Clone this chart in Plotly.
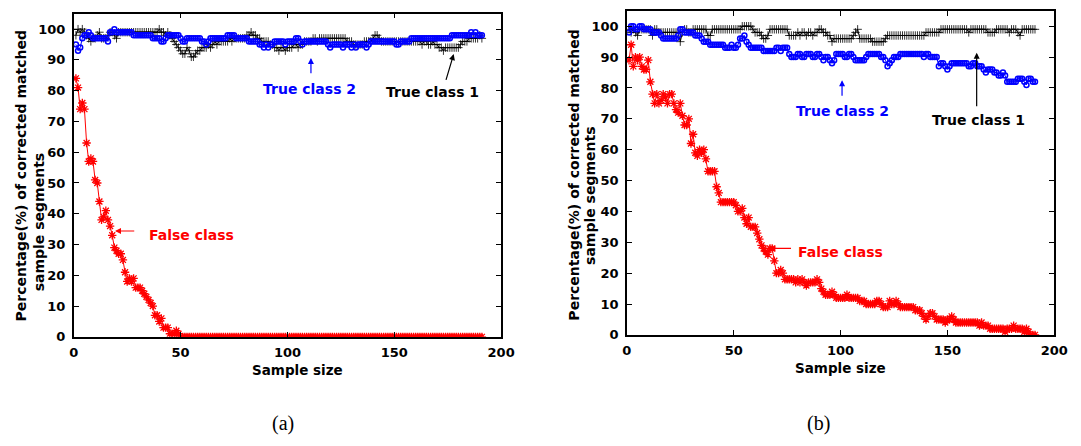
import plotly.graph_objects as go

# ---------------- data ----------------
sample_size = list(range(1, 192))
x_ticks = [0, 50, 100, 150, 200]
y_ticks = [0, 10, 20, 30, 40, 50, 60, 70, 80, 90, 100]

# Panel (a)
true_class1_a = [
    98, 100, 99, 100, 99, 98, 97, 96, 97, 97,
    98, 99, 97, 97, 97, 98, 99, 99, 98, 97,
    99, 99, 99, 99, 99, 99, 99, 99, 99, 99,
    99, 99, 99, 99, 99, 99, 99, 99, 99, 100,
    99, 99, 98, 99, 98, 97, 96, 95, 94, 93,
    92, 92, 94, 93, 91, 91, 92, 93, 93, 94,
    94, 94, 95, 94, 95, 96, 95, 96, 96, 96,
    96, 96, 97, 96, 97, 97, 97, 97, 97, 97,
    98, 98, 99, 98, 98, 97, 97, 96, 96, 96,
    96, 95, 95, 94, 94, 93, 94, 94, 93, 94,
    94, 94, 95, 95, 94, 95, 95, 96, 96, 96,
    96, 97, 97, 96, 97, 97, 97, 97, 97, 97,
    97, 97, 97, 97, 97, 97, 97, 96, 96, 96,
    95, 95, 95, 95, 95, 96, 96, 96, 96, 97,
    98, 98, 97, 96, 96, 96, 96, 96, 96, 96,
    96, 96, 96, 96, 96, 96, 96, 96, 96, 96,
    96, 96, 95, 96, 96, 95, 95, 96, 95, 95,
    94, 94, 93, 94, 94, 94, 94, 94, 94, 94,
    95, 96, 96, 96, 97, 97, 97, 97, 97, 98,
    97,
]
true_class2_a = [
    95, 93, 94, 97, 98, 98, 99, 98, 97, 97,
    97, 97, 97, 97, 97, 96, 99, 99, 100, 99,
    99, 99, 99, 99, 99, 99, 99, 98, 98, 98,
    98, 98, 98, 98, 98, 98, 97, 97, 97, 97,
    96, 96, 97, 98, 98, 98, 98, 98, 98, 97,
    96, 96, 97, 97, 97, 97, 97, 97, 97, 96,
    96, 95, 96, 97, 97, 97, 97, 97, 97, 97,
    97, 98, 98, 98, 98, 97, 97, 97, 97, 97,
    97, 96, 96, 96, 96, 96, 95, 95, 94, 95,
    94, 95, 95, 96, 96, 96, 96, 96, 95, 96,
    96, 96, 96, 97, 97, 96, 95, 96, 96, 96,
    96, 96, 96, 96, 96, 96, 96, 96, 95, 94,
    95, 95, 95, 95, 95, 94, 95, 95, 95, 94,
    95, 94, 95, 95, 95, 95, 94, 95, 96, 96,
    96, 96, 96, 96, 96, 96, 96, 96, 96, 96,
    95, 95, 96, 96, 96, 96, 96, 97, 97, 97,
    97, 97, 97, 97, 97, 97, 97, 97, 97, 97,
    97, 97, 97, 97, 97, 97, 98, 98, 98, 98,
    98, 98, 98, 98, 98, 99, 98, 99, 98, 98,
    98,
]
false_class_a = [
    84, 81, 74, 76, 74, 63, 57, 58, 57, 51,
    50, 44, 38, 39, 41, 38, 36, 33, 29, 28,
    27, 27, 25, 21, 18, 19, 18, 19, 16, 16,
    16, 15, 14, 13, 12, 11, 10, 7, 7, 5,
    6, 3, 3, 3, 1, 1, 1, 2, 1, 0,
    0, 0, 0, 0, 0, 0, 0, 0, 0, 0,
    0, 0, 0, 0, 0, 0, 0, 0, 0, 0,
    0, 0, 0, 0, 0, 0, 0, 0, 0, 0,
    0, 0, 0, 0, 0, 0, 0, 0, 0, 0,
    0, 0, 0, 0, 0, 0, 0, 0, 0, 0,
    0, 0, 0, 0, 0, 0, 0, 0, 0, 0,
    0, 0, 0, 0, 0, 0, 0, 0, 0, 0,
    0, 0, 0, 0, 0, 0, 0, 0, 0, 0,
    0, 0, 0, 0, 0, 0, 0, 0, 0, 0,
    0, 0, 0, 0, 0, 0, 0, 0, 0, 0,
    0, 0, 0, 0, 0, 0, 0, 0, 0, 0,
    0, 0, 0, 0, 0, 0, 0, 0, 0, 0,
    0, 0, 0, 0, 0, 0, 0, 0, 0, 0,
    0, 0, 0, 0, 0, 0, 0, 0, 0, 0,
    0,
]

# Panel (b)
true_class1_b = [
    99, 98, 99, 98, 97, 99, 99, 99, 99, 99,
    99, 97, 99, 99, 98, 98, 98, 98, 98, 98,
    98, 98, 98, 98, 95, 98, 99, 99, 98, 98,
    99, 99, 99, 99, 99, 99, 99, 97, 97, 99,
    99, 99, 99, 99, 99, 99, 99, 99, 99, 99,
    99, 99, 99, 100, 100, 100, 100, 100, 99, 98,
    98, 98, 97, 96, 96, 97, 99, 99, 99, 99,
    99, 99, 99, 99, 99, 97, 97, 97, 97, 98,
    97, 98, 98, 97, 98, 98, 97, 98, 98, 99,
    99, 98, 98, 97, 97, 95, 96, 96, 96, 96,
    96, 96, 96, 96, 96, 97, 98, 99, 96, 96,
    96, 96, 96, 96, 95, 95, 95, 95, 95, 95,
    96, 97, 97, 97, 97, 97, 97, 97, 97, 97,
    97, 97, 97, 97, 97, 97, 97, 97, 97, 98,
    98, 98, 98, 98, 98, 98, 99, 99, 99, 99,
    99, 99, 99, 99, 99, 99, 99, 99, 99, 98,
    99, 99, 99, 99, 99, 99, 99, 99, 98, 98,
    98, 98, 99, 99, 99, 99, 99, 99, 98, 99,
    99, 99, 98, 97, 99, 99, 99, 99, 99, 99,
    99,
]
true_class2_b = [
    98, 100, 100, 99, 99, 100, 100, 99, 99, 99,
    99, 98, 98, 98, 98, 97, 96, 96, 96, 96,
    96, 96, 96, 97, 99, 99, 98, 98, 98, 98,
    98, 97, 97, 97, 96, 95, 95, 95, 94, 94,
    94, 94, 94, 94, 94, 93, 93, 93, 94, 93,
    93, 94, 96, 96, 97, 95, 94, 93, 93, 93,
    93, 93, 93, 92, 92, 92, 92, 92, 92, 93,
    93, 92, 93, 93, 93, 91, 90, 90, 90, 91,
    91, 90, 90, 91, 91, 91, 90, 90, 91, 91,
    90, 89, 90, 90, 89, 88, 89, 91, 91, 91,
    91, 90, 90, 91, 91, 90, 89, 89, 89, 89,
    89, 90, 91, 91, 91, 91, 91, 91, 90, 90,
    89, 87, 88, 89, 90, 90, 90, 91, 91, 91,
    91, 91, 91, 91, 91, 91, 91, 91, 90, 91,
    91, 90, 90, 90, 90, 87, 88, 88, 87, 86,
    87, 88, 88, 88, 88, 88, 88, 88, 88, 87,
    87, 88, 88, 87, 87, 87, 86, 85, 86, 86,
    86, 85, 85, 84, 84, 85, 84, 82, 82, 82,
    82, 82, 83, 83, 83, 82, 81, 83, 83, 82,
    82,
]
false_class_b = [
    89, 94, 87, 90, 89, 90, 87, 86, 86, 89,
    82, 78, 75, 78, 75, 76, 78, 77, 75, 78,
    78, 75, 73, 72, 75, 71, 68, 68, 70, 62,
    65, 59, 58, 60, 59, 60, 57, 53, 53, 53,
    53, 48, 46, 43, 43, 43, 43, 43, 43, 43,
    42, 40, 40, 41, 38, 36, 38, 35, 35, 35,
    33, 31, 29, 28, 27, 26, 28, 28, 24, 20,
    20, 21, 20, 18, 18, 18, 18, 18, 17, 18,
    17, 18, 17, 16, 17, 17, 17, 17, 18, 17,
    15, 14, 13, 13, 13, 14, 13, 12, 12, 12,
    12, 12, 13, 12, 12, 12, 12, 12, 11, 11,
    11, 10, 10, 10, 10, 10, 11, 11, 10, 9,
    9, 9, 11, 10, 10, 11, 10, 9, 9, 9,
    9, 9, 9, 9, 8, 8, 8, 7, 6, 5,
    6, 7, 7, 6, 5, 5, 5, 5, 4, 5,
    5, 6, 5, 4, 4, 4, 4, 4, 4, 4,
    4, 4, 4, 4, 3, 4, 3, 3, 3, 2,
    2, 2, 2, 2, 2, 2, 1, 2, 2, 2,
    3, 2, 2, 2, 2, 1, 2, 1, 0, 0,
    0,
]

# ---------------- figure ----------------
BLACK = "#000000"
BLUE = "#0000ff"
RED = "#ff0000"
FONT = "DejaVu Sans"

fig = go.Figure()


def add_series(y, color, symbol, size, lw, xa, ya):
    fig.add_trace(go.Scatter(
        x=sample_size, y=y, mode="lines+markers",
        line=dict(color=color, width=1),
        marker=dict(symbol=symbol, size=size, color=color,
                    line=dict(color=color, width=lw)),
        xaxis=xa, yaxis=ya, showlegend=False, hoverinfo="skip"))


for xa, ya, t1, t2, fc in [("x", "y", true_class1_a, true_class2_a, false_class_a),
                           ("x2", "y2", true_class1_b, true_class2_b, false_class_b)]:
    add_series(t1, BLACK, "cross-thin-open", 6, 0.8, xa, ya)
    add_series(t2, BLUE, "circle-open", 5, 1.5, xa, ya)
    add_series(fc, RED, "asterisk-open", 7, 1.3, xa, ya)

W, H = 1081, 446

axis_common = dict(
    ticks="inside", ticklen=5, tickwidth=1, tickcolor=BLACK,
    showline=True, linecolor=BLACK, linewidth=1.5, mirror="ticks",
    showgrid=False, zeroline=False,
    tickfont=dict(family=FONT, size=13, color=BLACK, weight="bold"),
)
x_axis_extra = dict(range=[0, 200], tickvals=x_ticks, ticklabelstandoff=3)
y_axis_extra = dict(range=[0, 105], tickvals=y_ticks, ticklabelstandoff=4)

fig.update_layout(
    width=W, height=H,
    margin=dict(l=0, r=0, t=0, b=0),
    paper_bgcolor="white", plot_bgcolor="white",
    xaxis=dict(domain=[70 / W, 505 / W], anchor="y", **x_axis_extra, **axis_common),
    yaxis=dict(domain=[(H - 343) / H, (H - 14) / H], anchor="x", **y_axis_extra, **axis_common),
    xaxis2=dict(domain=[633 / W, 1068 / W], anchor="y2", **x_axis_extra, **axis_common),
    yaxis2=dict(domain=[(H - 341) / H, (H - 11) / H], anchor="x2", **y_axis_extra, **axis_common),
)

ytitle_font = dict(family=FONT, size=14, color=BLACK, weight="bold")
xtitle_font = dict(family=FONT, size=13.5, color=BLACK, weight="bold")
ann = []


def paper_text(text, px, py, font, angle=0):
    ann.append(dict(text=text, xref="paper", yref="paper", x=px / W, y=(H - py) / H,
                    xanchor="center", yanchor="middle", showarrow=False,
                    textangle=angle, font=font))


# axis titles
paper_text("Percentage(%) of corrected matched", 16, 179, ytitle_font, -90)
paper_text("sample segments", 35, 226, ytitle_font, -90)
paper_text("Sample size", 298, 377, xtitle_font)
paper_text("Percentage(%) of corrected matched", 579, 178, ytitle_font, -90)
paper_text("sample segments", 596, 200, ytitle_font, -90)
paper_text("Sample size", 850, 375, xtitle_font)

# panel labels
paper_text("(a)", 283, 431, dict(family="Liberation Serif", size=20, color=BLACK))
paper_text("(b)", 828, 431, dict(family="Liberation Serif", size=20, color=BLACK))


def arrow(xr, yr, x, y, ax, ay, color):
    ann.append(dict(text="", xref=xr, yref=yr, x=x, y=y, ax=ax, ay=ay,
                    axref=xr, ayref=yr, showarrow=True, arrowhead=2,
                    arrowsize=1, arrowwidth=1.2, arrowcolor=color))


def label(xr, yr, x, y, text, color, xanchor="center"):
    ann.append(dict(text=text, xref=xr, yref=yr, x=x, y=y, xanchor=xanchor,
                    yanchor="middle", showarrow=False,
                    font=dict(family=FONT, size=14, color=color, weight="bold")))


# panel (a) callouts
arrow("x", "y", 111, 90.6, 111, 85.2, BLUE)
label("x", "y", 110.5, 80.5, "True class 2", BLUE)
arrow("x", "y", 177.8, 91.9, 174, 83, BLACK)
label("x", "y", 168, 79.5, "True class 1", BLACK)
arrow("x", "y", 19.3, 34.4, 29, 34.4, RED)
label("x", "y", 34.5, 33, "False class", RED, "left")

# panel (b) callouts
arrow("x2", "y2", 100.7, 82.5, 100.7, 77, BLUE)
label("x2", "y2", 100.7, 72.5, "True class 2", BLUE)
arrow("x2", "y2", 163.7, 91.4, 163.7, 73.6, BLACK)
label("x2", "y2", 164.5, 69.5, "True class 1", BLACK)
arrow("x2", "y2", 66.7, 28, 77.5, 28, RED)
label("x2", "y2", 79.2, 26.7, "False class", RED, "left")

fig.update_layout(annotations=ann)

fig.write_html("out.html")
